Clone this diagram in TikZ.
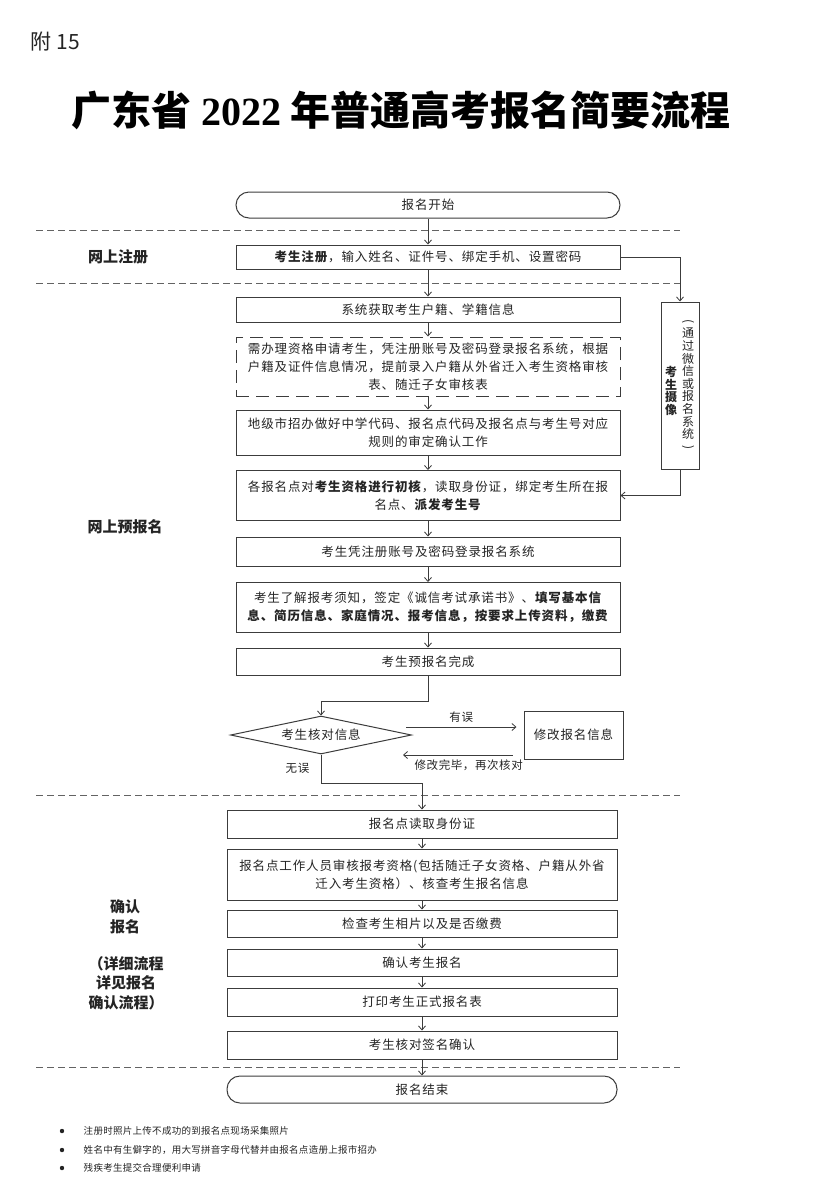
\documentclass[tikz,border=0pt]{standalone}
\usepackage{fontspec}
\setmainfont{Noto Sans CJK SC}
\newfontfamily\numfont{Liberation Serif}
\usetikzlibrary{calc,arrows.meta,positioning,shapes.geometric}
\definecolor{linegray}{HTML}{3C3C3C}
\definecolor{inkgray}{HTML}{242424}

\begin{document}
\begin{tikzpicture}[x=1pt,y=-1pt,>={Straight Barb[length=4pt,width=7pt]},
	box/.style={draw=linegray, line width=1pt, minimum width=384pt, inner sep=2pt, align=center, text=inkgray,
		font=\fontsize{12.5}{18}\selectfont\addfontfeature{LetterSpace=7}},
	lowbox/.style={box, minimum width=390pt},
	startend/.style={box, rounded corners=13pt, minimum height=26pt},
	decision/.style={diamond, draw=linegray, line width=1pt, aspect=4.7, minimum width=181pt, minimum height=38pt,
		inner sep=0pt, text=inkgray, font=\fontsize{12.5}{18}\selectfont\addfontfeature{LetterSpace=7}},
	stage/.style={align=center, text=inkgray, font=\fontsize{15}{20}\selectfont\bfseries},
	small/.style={text=inkgray, font=\fontsize{11.5}{13}\selectfont\addfontfeature{LetterSpace=5}},
	note/.style={anchor=west, text=inkgray, font=\fontsize{9.5}{12}\selectfont\addfontfeature{LetterSpace=3}},
	vcol/.style={align=center, inner sep=0pt, text=inkgray, font=\fontsize{12}{12.6}\selectfont},
	divider/.style={draw=linegray!80, line width=1pt, dash pattern=on 7pt off 4pt},
	every path/.style={draw=linegray, line width=0.8pt}]
\path[use as bounding box, fill=white, draw=none] (0,0) rectangle (835,1200);

% header
\node[anchor=west, text=inkgray, font=\fontsize{21}{24}\selectfont] (annex) at (27,42) {附 15};
\node[text=black, font=\fontsize{40}{42}\selectfont\bfseries] (title) at (401,110)
	{广东省 {\numfont 2022} 年普通高考报名简要流程};

% section lines
\foreach \y in {230,283,795,1067}
	\draw[divider] (36,\y) -- (680,\y);

% stage labels
\node[stage] (regtag) at (118,257) {网上注册};
\node[stage] (pretag) at (125,527) {网上预报名};
\node[stage] (cftag) at (125,917) {确认\\报名};
\node[stage, font=\fontsize{15}{19.5}\selectfont\bfseries] (cfnote) at (126,983) {（详细流程\\详见报名\\确认流程）};

% online registration
\node[startend] (start) at (428,205) {报名开始};
\node[box, minimum height=24pt] (reg) at (428,257) {\textbf{考生注册}，输入姓名、证件号、绑定手机、设置密码};

% online pre-registration
\node[box, minimum height=25pt] (hukou) at (428,309.5) {系统获取考生户籍、学籍信息};
\node[box, minimum height=59pt, dash pattern=on 13pt off 7pt] (apply) at (428,366.5)
	{需办理资格申请考生，凭注册账号及密码登录报名系统，根据\\户籍及证件信息情况，提前录入户籍从外省迁入考生资格审核\\表、随迁子女审核表};
\node[box, minimum height=45pt] (code) at (428,432.5)
	{地级市招办做好中学代码、报名点代码及报名点与考生号对应\\规则的审定确认工作};
\node[box, minimum height=50pt] (check) at (428,495.5)
	{各报名点对\textbf{考生资格进行初核}，读取身份证，绑定考生所在报\\名点、\textbf{派发考生号}};
\node[box, minimum height=29pt] (login) at (428,551.5) {考生凭注册账号及密码登录报名系统};
\node[box, minimum height=50pt] (fill) at (428,607.5)
	{考生了解报考须知，签定《诚信考试承诺书》、\textbf{填写基本信}\\\textbf{息、简历信息、家庭情况、报考信息，按要求上传资料，缴费}};
\node[box, minimum height=27pt] (pre) at (428,661.5) {考生预报名完成};

% photo box
\node[draw=linegray, line width=1pt, minimum width=38pt, minimum height=167pt] (photo) at (680,385.5) {};
\node[vcol, font=\fontsize{12}{12.6}\selectfont\bfseries] (photoA) at (671,391) {考\\生\\摄\\像};
\node[vcol] (photoB) at (688,385.5)
	{\rotatebox[origin=c]{-90}{(}\\通\\过\\微\\信\\或\\报\\名\\系\\统\\\rotatebox[origin=c]{-90}{)}};

% check loop
\node[decision] (verify) at (321,735) {考生核对信息};
\node[box, minimum width=99pt, minimum height=48pt] (fix) at (573.5,735) {修改报名信息};
\coordinate (bendA) at (428,701);
\coordinate (bendB) at (422,783);

% confirmation
\node[lowbox, minimum height=28pt] (readid) at (422,824) {报名点读取身份证};
\node[lowbox, minimum height=51pt] (review) at (422,874.5)
	{报名点工作人员审核报考资格(包括随迁子女资格、户籍从外省\\迁入考生资格）、核查考生报名信息};
\node[lowbox, minimum height=27pt] (photochk) at (422,923.5) {检查考生相片以及是否缴费};
\node[lowbox, minimum height=27pt] (confirm) at (422,962.5) {确认考生报名};
\node[lowbox, minimum height=28pt] (print) at (422,1002) {打印考生正式报名表};
\node[lowbox, minimum height=28pt] (sign) at (422,1045) {考生核对签名确认};
\node[startend, minimum width=390pt, minimum height=27pt] (finish) at (422,1089.5) {报名结束};

% connectors
\draw[->] (start) -- (reg);
\draw[->] (reg) -- (hukou);
\draw[->] (reg.east) -| (photo.north);
\draw[->] (photo.south) |- (check.east);
\draw[->] (hukou) -- (apply);
\draw[->] (apply) -- (code);
\draw[->] (code) -- (check);
\draw[->] (check) -- (login);
\draw[->] (login) -- (fill);
\draw[->] (fill) -- (pre);
\draw[->] (pre) -- (bendA) -| (verify.north);
\draw[->] ($(verify.east)+(-6,-8)$) -- ($(fix.west)+(-7,-8)$) node[small, midway, above=1pt] (errtag) {有误};
\draw[->] ($(fix.west)+(-11,20)$) -- ($(verify.east)+(-9,20)$) node[small, pos=0.4, below=1pt] (againtag) {修改完毕，再次核对};
\draw[->] (verify.south) |- (bendB) -- (readid);
\node[small, below left=5pt and 8pt of verify.south] (oktag) {无误};
\draw[->] (readid) -- (review);
\draw[->] (review) -- (photochk);
\draw[->] (photochk) -- (confirm);
\draw[->] (confirm) -- (print);
\draw[->] (print) -- (sign);
\draw[->] (sign) -- (finish);

% notes
\foreach \y in {1131,1150,1168}
	\fill[inkgray, draw=none] (62,\y) circle (2.2);
\node[note] (note1) at (80,1131) {注册时照片上传不成功的到报名点现场采集照片};
\node[note] (note2) at (80,1150) {姓名中有生僻字的，用大写拼音字母代替并由报名点造册上报市招办};
\node[note] (note3) at (80,1168) {残疾考生提交合理便利申请};

\end{tikzpicture}
\end{document}
